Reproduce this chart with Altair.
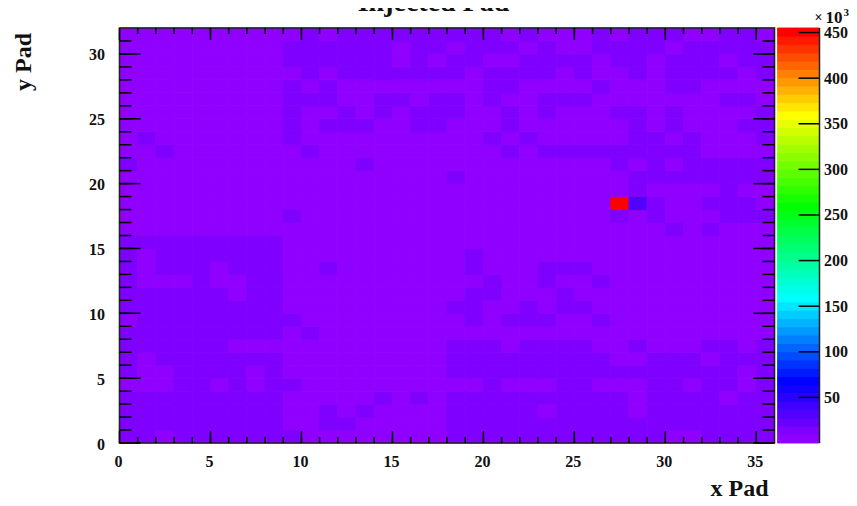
import altair as alt
import pandas as pd

# ---- values ----
N_X = 36
N_Y = 32
LOW = 4.5      # background level (k counts)
HIGH = 13.5    # second level
MID = 30.0     # cell next to the hot pad
HOT = 452.0    # hot pad

# runs of second-level cells, per y bin
high_runs = {
    31: [(10,10),(12,20),(22,22),(26,26),(28,30),(33,34)],
    30: [(9,14),(16,17),(19,21),(23,23),(26,29),(31,35)],
    29: [(9,14),(16,16),(18,19),(22,25),(27,28),(30,32),(34,35)],
    28: [(10,10),(12,18),(20,23),(25,25),(28,28),(30,33),(35,35)],
    27: [(9,9),(11,11),(20,21),(26,26),(30,31)],
    26: [(9,11),(14,15),(17,18),(20,20),(23,25),(33,34)],
    25: [(9,9),(12,12),(14,14),(16,18),(21,21),(23,23),(27,28),(30,30),(35,35)],
    24: [(9,9),(11,13),(16,17),(21,21),(28,28),(30,30),(34,35)],
    23: [(1,1),(9,9),(20,20),(22,22),(28,29),(31,31),(35,35)],
    22: [(2,2),(10,10),(21,21),(23,31)],
    21: [(0,0),(13,13),(27,27),(29,29),(31,35)],
    20: [(18,18),(28,35)],
    19: [(28,28),(33,33)],
    18: [(29,29),(32,34)],
    17: [(9,9),(27,27),(29,29),(33,35)],
    16: [(30,30),(32,32)],
    15: [(0,8)],
    14: [(0,0),(2,8),(19,19)],
    13: [(0,0),(2,4),(6,8),(11,11),(19,19),(23,25)],
    12: [(0,0),(4,4),(7,8),(20,20),(23,23),(26,26)],
    11: [(0,5),(7,8),(19,20),(24,24)],
    10: [(0,8),(18,19),(22,22),(24,25)],
    9: [(1,9),(19,19),(21,23),(26,26)],
    8: [(0,8),(10,10)],
    7: [(0,5),(18,20),(22,25),(28,28),(32,33),(35,35)],
    6: [(0,0),(2,8),(18,26),(29,31),(33,35)],
    5: [(0,0),(3,6),(8,8),(18,33),(35,35)],
    4: [(3,4),(6,6),(8,9),(20,20),(24,25),(29,30),(32,33),(35,35)],
    3: [(0,8),(14,14),(16,16),(18,27),(29,32),(34,35)],
    2: [(0,8),(11,11),(13,13),(18,22),(24,27),(29,35)],
    1: [(0,8),(11,12),(18,35)],
    0: [(0,1),(3,9),(18,29),(32,35)],
}
special_cells = {(27, 18): HOT, (28, 18): MID}

palette = [
    "#9000ff","#7f00ff","#6700ff","#5200ff","#3e00ff","#2900ff","#1500ff","#0000ff",
    "#001aff","#0033ff","#004dff","#0066ff","#0080ff","#0099ff","#00b3ff","#00ccff",
    "#00e6ff","#00ffff","#00ffe8","#00ffd1","#00ffba","#00ffa2","#00ff8b","#00ff74",
    "#00ff5d","#00ff46","#00ff2e","#00ff17","#00ff00","#17ff00","#2eff00","#46ff00",
    "#5dff00","#74ff00","#8bff00","#a2ff00","#baff00","#d1ff00","#e8ff00","#ffff00",
    "#ffe600","#ffcc00","#ffb300","#ff9900","#ff8000","#ff6600","#ff4d00","#ff3300",
    "#ff1a00","#ff0000",
]
z_max = 455.0
level_width = z_max / len(palette)

x_ticks_major = [0, 5, 10, 15, 20, 25, 30, 35]
y_ticks_major = [0, 5, 10, 15, 20, 25, 30]
x_ticks_minor = list(range(1, 36))
y_ticks_minor = list(range(1, 32))
z_ticks = [50, 100, 150, 200, 250, 300, 350, 400, 450]

# ---- layout ----
PLOT_W = 655.0
TOTAL_W = 700.0
H = 415
x_end = 36 * TOTAL_W / PLOT_W
bar_start = 36.17
FONT = "Liberation Serif"
INK = "#111111"

cells = []
for r in range(N_Y):
    runs = high_runs.get(r, [])
    for c in range(N_X):
        v = HIGH if any(a <= c <= b for a, b in runs) else LOW
        v = special_cells.get((c, r), v)
        cells.append(dict(x0=c, x1=c + 1, y0=r, y1=r + 1, v=v))
cells = pd.DataFrame(cells)

bar = pd.DataFrame([
    dict(x0=bar_start, x1=x_end, z0=i * level_width, z1=(i + 1) * level_width,
         v=(i + 0.5) * level_width)
    for i in range(len(palette))
])

xs = alt.Scale(domain=[0, x_end], nice=False, zero=False)
ys = alt.Scale(domain=[0, N_Y], nice=False, zero=False)
zs = alt.Scale(domain=[0, z_max], nice=False, zero=False)
cs = alt.Scale(type="threshold",
               domain=[(i + 1) * level_width for i in range(len(palette) - 1)],
               range=palette)

axis_common = dict(domain=False, ticks=False, grid=False, labelFont=FONT, labelFontWeight="bold",
                   labelFontSize=16, labelColor=INK, title=None)

heat = alt.Chart(cells).mark_rect(strokeWidth=0.9).encode(
    x=alt.X("x0:Q", scale=xs, axis=alt.Axis(values=x_ticks_major, orient="bottom", labelPadding=10,
                                            labelFlush=False, labelOffset=-1.5, **axis_common)),
    x2="x1:Q",
    y=alt.Y("y0:Q", scale=ys, axis=alt.Axis(values=y_ticks_major, orient="left", labelPadding=15,
                                            labelFlush=False, labelOffset=1, **axis_common)),
    y2="y1:Q",
    color=alt.Color("v:Q", scale=cs, legend=None),
    stroke=alt.Color("v:Q", scale=cs, legend=None),
)

colorbar = alt.Chart(bar).mark_rect(strokeWidth=0.9).encode(
    x=alt.X("x0:Q", scale=xs, axis=None),
    x2="x1:Q",
    y=alt.Y("z0:Q", scale=zs, axis=alt.Axis(values=z_ticks, orient="right", labelPadding=4,
                                            labelFlush=False, **axis_common)),
    y2="z1:Q",
    color=alt.Color("v:Q", scale=cs, legend=None),
    stroke=alt.Color("v:Q", scale=cs, legend=None),
)

frame_df = pd.DataFrame([dict(x0=0, x1=36, y0=0, y1=N_Y)])
frame = alt.Chart(frame_df).mark_rect(fill=None, stroke="#222222", strokeWidth=1.6).encode(
    x=alt.X("x0:Q", scale=xs, axis=None), x2="x1:Q",
    y=alt.Y("y0:Q", scale=ys, axis=None), y2="y1:Q",
)

def xticks(vals, length):
    d = pd.DataFrame({"t": vals})
    base = alt.Chart(d).mark_rule(color="#000000", strokeWidth=1.5)
    x = alt.X("t:Q", scale=xs, axis=None)
    return [
        base.encode(x=x, y=alt.value(H), y2=alt.value(H - length)),
        base.encode(x=x, y=alt.value(0), y2=alt.value(length)),
    ]

def yticks(vals, length):
    d = pd.DataFrame({"t": vals})
    base = alt.Chart(d).mark_rule(color="#000000", strokeWidth=1.5)
    y = alt.Y("t:Q", scale=ys, axis=None)
    return [
        base.encode(y=y, x=alt.value(0), x2=alt.value(length)),
        base.encode(y=y, x=alt.value(PLOT_W), x2=alt.value(PLOT_W - length)),
    ]

bar_ticks = alt.Chart(pd.DataFrame({"t": z_ticks})).mark_rule(color="#000000", strokeWidth=1.5).encode(
    y=alt.Y("t:Q", scale=zs, axis=None), x=alt.value(TOTAL_W), x2=alt.value(TOTAL_W - 21),
)
bar_edge = alt.Chart(pd.DataFrame({"t": [0.0], "u": [z_max]})).mark_rule(color="#222222", strokeWidth=1.5).encode(
    y=alt.Y("t:Q", scale=zs, axis=None), y2="u:Q", x=alt.value(TOTAL_W),
)

def label(text, x, y, size, angle=0, align="center"):
    return alt.Chart(pd.DataFrame({"s": [text]})).mark_text(
        font=FONT, fontWeight="bold", fontSize=size, color=INK, angle=angle, align=align,
        baseline="alphabetic",
    ).encode(text="s:N", x=alt.value(x), y=alt.value(y))

texts = [
    label("Injected Pad", 314, -17, 28),
    label("x Pad", 620, 468, 24),
    label("y Pad", -88.5, 34, 24, angle=270),
    label("×", 695, -6, 14, align="left"),
    label("10", 706, -5, 17, align="left"),
    label("3", 724, -12, 11, align="left"),
]

layers = [heat, colorbar, frame]
layers += xticks(x_ticks_minor, 6) + xticks(x_ticks_major, 12)
layers += yticks(y_ticks_minor, 12) + yticks(y_ticks_major, 21)
layers += [bar_ticks, bar_edge] + texts

chart = alt.layer(*layers).resolve_scale(y="independent").resolve_axis(x="independent").properties(
    width=TOTAL_W,
    height=H,
    padding={"left": 111.5, "top": 20, "right": 29, "bottom": 54},
    autosize=alt.AutoSizeParams(type="none"),
).configure_view(strokeWidth=0)

chart.save("out.html", embed_options={"renderer": "svg", "actions": False})
